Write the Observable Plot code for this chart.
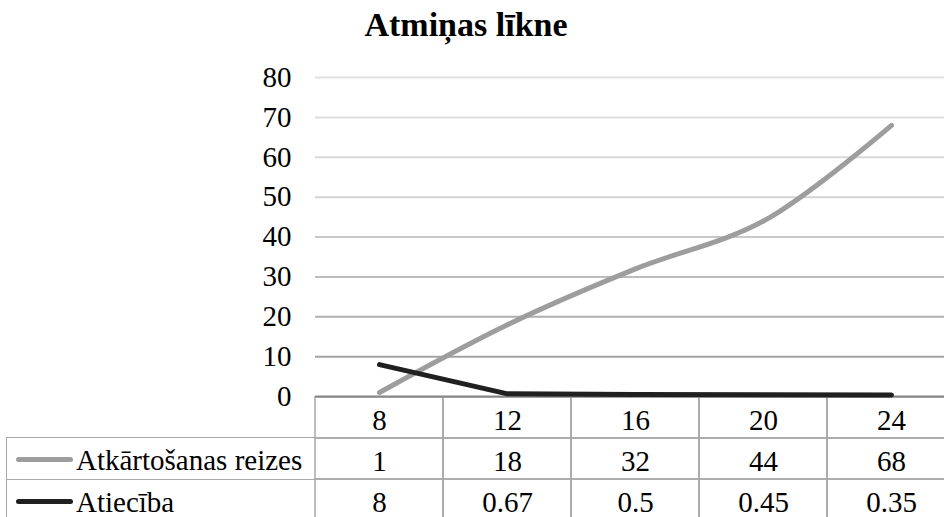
<!DOCTYPE html>
<html>
<head>
<meta charset="utf-8">
<script src="https://cdn.jsdelivr.net/npm/d3@7"></script>
<script src="https://cdn.jsdelivr.net/npm/@observablehq/plot@0.6"></script>
<style>
  body { margin: 0; background: #fff; }
  #wrap { position: relative; width: 944px; height: 517px; overflow: hidden;
          font-family: "Liberation Serif", "Times New Roman", serif; color: #000; }
  #title { position: absolute; left: 0; top: 8px; width: 932px; text-align: center;
           font-weight: bold; font-size: 34px; line-height: 34px; }
  #table, #chart { position: absolute; left: 0; }
  #table { top: 396px; }
  #chart { top: 0; }
  #legend { position: absolute; left: 6px; top: 437px; width: 309px; }
  .legrow { position: relative; height: 42px; box-sizing: border-box;
            border-top: 1.5px solid #a8a8a8; border-left: 1.5px solid #a8a8a8; }
  .sw { position: absolute; left: 9px; top: 50%; margin-top: -2px; width: 57px; height: 5px; border-radius: 3px; }
  .lab { position: absolute; left: 69px; top: 8px; font-size: 29px; line-height: 28px; white-space: nowrap; }
  svg.plot { background: transparent; }
</style>
</head>
<body>
<div id="wrap">
  <div id="title"></div>
  <div id="table"></div>
  <div id="chart"></div>
  <div id="legend"></div>
</div>
<script>
// Chart text and data
const chartTitle = "Atmiņas līkne";
const intervals = ["8", "12", "16", "20", "24"];
const seriesNames = ["Atkārtošanas reizes", "Atiecība"];
const repetitions = [1, 18, 32, 44, 68];
const ratio = [8, 0.67, 0.5, 0.45, 0.35];
const yTicks = [0, 10, 20, 30, 40, 50, 60, 70, 80];
const seriesColors = ["#9d9d9d", "#202020"];
const seriesCurves = ["catmull-rom", "linear"];

const seriesValues = [repetitions, ratio];
const font = '"Liberation Serif", "Times New Roman", serif';

document.getElementById("title").textContent = chartTitle;

// Long-form rows for the two lines
const lineRows = seriesNames.map((name, s) =>
  intervals.map((cat, i) => ({series: name, cat, value: seriesValues[s][i]}))
);

// Gridlines fade from darker near the baseline to lighter at the top
const gridColor = d3.scaleLinear().domain([10, 50, 80]).range(["#a3a3a3", "#d4d4d4", "#e1e1e1"]);

const chart = Plot.plot({
  width: 944,
  height: 400,
  marginTop: 77,
  marginBottom: 4,
  marginLeft: 315,
  marginRight: 0,
  style: {background: "transparent", fontFamily: font, fontSize: "29px", color: "#000", overflow: "visible"},
  x: {type: "point", domain: intervals, range: [315, 955], padding: 0.5, axis: null},
  y: {domain: [0, 80], ticks: yTicks, tickSize: 0, tickPadding: 24, label: null, tickFormat: d => String(d)},
  marks: [
    ...yTicks.filter(t => t > 0).map(t => Plot.ruleY([t], {stroke: gridColor(t), strokeWidth: 2})),
    Plot.ruleY([0], {stroke: "#868686", strokeWidth: 2}),
    ...lineRows.map((rows, s) => Plot.line(rows, {
      x: "cat", y: "value", stroke: seriesColors[s], strokeWidth: 5,
      strokeLinecap: "round", strokeLinejoin: "round", curve: seriesCurves[s]
    }))
  ]
});
document.getElementById("chart").append(chart);

// Data table under the plot: header row of intervals, then one row per series
const tableRows = ["interval", ...seriesNames];
const cells = [
  ...intervals.map(c => ({row: "interval", cat: c, text: c})),
  ...seriesNames.flatMap((name, s) =>
    intervals.map((c, i) => ({row: name, cat: c, text: String(seriesValues[s][i])})))
];

const table = Plot.plot({
  width: 944,
  height: 121,
  margin: 0,
  style: {background: "transparent", fontFamily: font, fontSize: "29px", color: "#000"},
  x: {type: "band", domain: intervals, range: [315, 955], padding: 0, axis: null},
  y: {type: "band", domain: tableRows, range: [0, 124.5], padding: 0, axis: null},
  marks: [
    Plot.cell(cells, {x: "cat", y: "row", fill: "none", stroke: "#a8a8a8", strokeWidth: 1.5, inset: 0}),
    Plot.text(cells, {x: "cat", y: "row", text: "text", fontSize: 29, dy: 3, fill: "#000"})
  ]
});
document.getElementById("table").append(table);

// Row labels with line keys to the left of the table
const legend = document.getElementById("legend");
seriesNames.forEach((name, s) => {
  const row = document.createElement("div");
  row.className = "legrow";
  const sw = document.createElement("span");
  sw.className = "sw";
  sw.style.background = seriesColors[s];
  const lab = document.createElement("span");
  lab.className = "lab";
  lab.textContent = name;
  row.append(sw, lab);
  legend.append(row);
});
</script>
</body>
</html>
